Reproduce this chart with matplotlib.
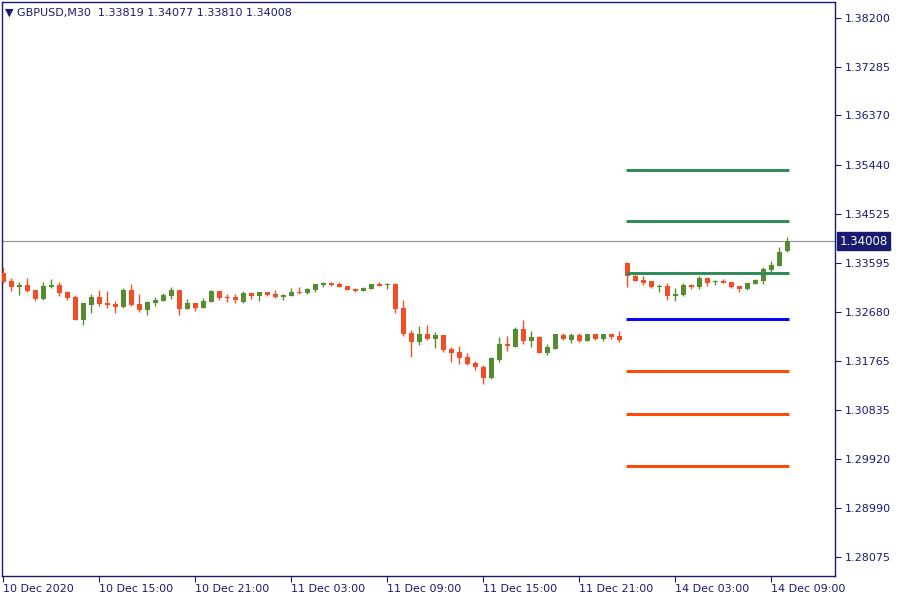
"""
GBPUSD M30 candlestick chart with support / resistance levels (MT4 style)
"""
import matplotlib

matplotlib.use("Agg")
import matplotlib.pyplot as plt
import numpy as np

# candles 10 Dec 09:00 .. 11 Dec 23:30, then 14 Dec 00:00 .. 14 Dec 10:00
opens = [
    1.33409, 1.33259, 1.33152, 1.33184, 1.33090, 1.32926, 1.33152, 1.33184, 1.33052, 1.32958,
    1.32532, 1.32814, 1.32958, 1.32846, 1.32827, 1.32776, 1.33090, 1.32827, 1.32720, 1.32851,
    1.32889, 1.32983, 1.33090, 1.32738, 1.32846, 1.32757, 1.32870, 1.33071, 1.32964, 1.32958,
    1.32870, 1.33033, 1.32983, 1.33052, 1.33015, 1.32964, 1.32983, 1.33052, 1.33033, 1.33090,
    1.33184, 1.33221, 1.33202, 1.33165, 1.33109, 1.33071, 1.33109, 1.33202, 1.33189, 1.33202,
    1.32752, 1.32288, 1.32119, 1.32269, 1.32175, 1.32250, 1.31987, 1.31931, 1.31837, 1.31724,
    1.31649, 1.31442, 1.31780, 1.32081, 1.32025, 1.32363, 1.32137, 1.32212, 1.31912, 1.31987,
    1.32250, 1.32156, 1.32250, 1.32137, 1.32269, 1.32175, 1.32269, 1.32231,
    1.33603, 1.33358, 1.33283, 1.33265, 1.33152, 1.33171, 1.32983, 1.33001, 1.33189, 1.33152,
    1.33321, 1.33246, 1.33265, 1.33246, 1.33171, 1.33114, 1.33208, 1.33265, 1.33471, 1.33546,
    1.33819,
]
highs = [
    1.33527, 1.33315, 1.33240, 1.33315, 1.33090, 1.33240, 1.33296, 1.33240, 1.33071, 1.32996,
    1.32846, 1.33015, 1.33090, 1.33071, 1.32883, 1.33127, 1.33202, 1.33015, 1.32883, 1.32958,
    1.33033, 1.33146, 1.33090, 1.32921, 1.32846, 1.32940, 1.33090, 1.33071, 1.33015, 1.33015,
    1.33071, 1.33033, 1.33052, 1.33052, 1.33090, 1.33015, 1.33127, 1.33146, 1.33127, 1.33202,
    1.33240, 1.33240, 1.33240, 1.33165, 1.33127, 1.33146, 1.33202, 1.33240, 1.33221, 1.33221,
    1.32902, 1.32338, 1.32419, 1.32438, 1.32306, 1.32250, 1.32025, 1.32043, 1.31912, 1.31762,
    1.31686, 1.31837, 1.32212, 1.32231, 1.32400, 1.32532, 1.32325, 1.32231, 1.32081, 1.32269,
    1.32288, 1.32288, 1.32288, 1.32269, 1.32269, 1.32269, 1.32269, 1.32325,
    1.33621, 1.33434, 1.33358, 1.33265, 1.33208, 1.33227, 1.33133, 1.33227, 1.33208, 1.33358,
    1.33340, 1.33283, 1.33302, 1.33246, 1.33171, 1.33227, 1.33302, 1.33527, 1.33640, 1.33898,
    1.34077,
]
lows = [
    1.33221, 1.33077, 1.33001, 1.33058, 1.32889, 1.32908, 1.33133, 1.32983, 1.32908, 1.32532,
    1.32438, 1.32663, 1.32795, 1.32757, 1.32663, 1.32757, 1.32795, 1.32682, 1.32626, 1.32795,
    1.32889, 1.32926, 1.32626, 1.32738, 1.32701, 1.32757, 1.32870, 1.32908, 1.32870, 1.32851,
    1.32851, 1.32926, 1.32889, 1.32983, 1.32945, 1.32908, 1.32983, 1.33015, 1.33015, 1.33052,
    1.33146, 1.33165, 1.33146, 1.33090, 1.33052, 1.33071, 1.33109, 1.33165, 1.33109, 1.32658,
    1.32231, 1.31837, 1.32062, 1.32156, 1.32006, 1.31931, 1.31743, 1.31705, 1.31686, 1.31593,
    1.31330, 1.31423, 1.31743, 1.31949, 1.32025, 1.32081, 1.32025, 1.31912, 1.31874, 1.31987,
    1.32156, 1.32100, 1.32119, 1.32137, 1.32156, 1.32137, 1.32175, 1.32119,
    1.33152, 1.33265, 1.33189, 1.33133, 1.33058, 1.32908, 1.32889, 1.32983, 1.33114, 1.33114,
    1.33171, 1.33189, 1.33227, 1.33133, 1.33058, 1.33095, 1.33208, 1.33208, 1.33415, 1.33546,
    1.33810,
]
closes = [
    1.33240, 1.33152, 1.33184, 1.33077, 1.32926, 1.33165, 1.33184, 1.33039, 1.32945, 1.32532,
    1.32846, 1.32958, 1.32827, 1.32814, 1.32776, 1.33090, 1.32814, 1.32720, 1.32864, 1.32902,
    1.32996, 1.33090, 1.32738, 1.32846, 1.32757, 1.32883, 1.33071, 1.32945, 1.32945, 1.32908,
    1.33033, 1.32983, 1.33052, 1.33001, 1.32964, 1.33001, 1.33052, 1.33033, 1.33109, 1.33202,
    1.33221, 1.33184, 1.33146, 1.33090, 1.33071, 1.33127, 1.33202, 1.33165, 1.33202, 1.32733,
    1.32269, 1.32119, 1.32269, 1.32175, 1.32250, 1.31968, 1.31912, 1.31818, 1.31705, 1.31649,
    1.31442, 1.31818, 1.32081, 1.32043, 1.32363, 1.32137, 1.32212, 1.31912, 1.32025, 1.32269,
    1.32175, 1.32250, 1.32137, 1.32269, 1.32175, 1.32269, 1.32212, 1.32156,
    1.33358, 1.33265, 1.33227, 1.33152, 1.33171, 1.32983, 1.33020, 1.33189, 1.33152, 1.33321,
    1.33227, 1.33265, 1.33227, 1.33152, 1.33114, 1.33227, 1.33283, 1.33490, 1.33565, 1.33804,
    1.34008,
]

# horizontal levels drawn on the last session
resistance_levels = [1.35344, 1.34386, 1.33409]
pivot_level = 1.32545
support_levels = [1.31568, 1.30761, 1.29784]

y_ticks = [1.38200, 1.37285, 1.36370, 1.35440, 1.34525, 1.33595,
           1.32680, 1.31765, 1.30835, 1.29920, 1.28990, 1.28075]
x_tick_idx = [0, 12, 24, 36, 48, 60, 72, 84, 96]
x_tick_labels = ["10 Dec 2020", "10 Dec 15:00", "10 Dec 21:00", "11 Dec 03:00",
                 "11 Dec 09:00", "11 Dec 15:00", "11 Dec 21:00", "14 Dec 03:00",
                 "14 Dec 09:00"]

symbol = "GBPUSD,M30"
last_price = closes[-1]

UP = "#568c30"
DOWN = "#f24d26"
NAVY = "#1a1a6e"

fig = plt.figure(figsize=(9, 6), dpi=100)
ax = fig.add_axes([2 / 900, 24 / 600, 833 / 900, 574 / 600])

o = np.array(opens)
h = np.array(highs)
l = np.array(lows)
c = np.array(closes)
x = np.arange(len(o))
colors = [UP if cc >= oo else DOWN for oo, cc in zip(o, c)]

# wicks then bodies
ax.vlines(x, l, h, colors=colors, linewidth=1.0, zorder=3)
body_bottom = np.minimum(o, c)
body_height = np.maximum(np.abs(c - o), 0.00019)
ax.bar(x, body_height, bottom=body_bottom, width=0.62, color=colors, linewidth=0, zorder=4)

# level lines
x0, x1 = 77.85, 98.2
for lvl in resistance_levels:
    ax.hlines(lvl, x0, x1, colors="#2e8b57", linewidth=2.1, zorder=5)
ax.hlines(pivot_level, x0, x1, colors="#0000ff", linewidth=2.1, zorder=5)
for lvl in support_levels:
    ax.hlines(lvl, x0, x1, colors="#ff4500", linewidth=2.1, zorder=5)

# current price line
ax.axhline(last_price, color="#8a8f9a", linewidth=0.8, zorder=2)

ax.set_xlim(-0.16, 103.96)
ax.set_ylim(1.27717, 1.38500)

ax.yaxis.tick_right()
ax.set_yticks(y_ticks)
ax.set_yticklabels([f"{v:.5f}" for v in y_ticks])
ax.set_xticks(x_tick_idx)
ax.set_xticklabels(x_tick_labels, ha="left")
ax.tick_params(axis="both", colors=NAVY, labelsize=8, length=4, width=0.8)
ax.tick_params(axis="y", pad=3)
ax.tick_params(axis="x", pad=2)
for lab in ax.get_xticklabels() + ax.get_yticklabels():
    lab.set_color(NAVY)
for sp in ax.spines.values():
    sp.set_color(NAVY)
    sp.set_linewidth(1.0)

# price tag on the right axis
ax.text(1.0055, last_price, f"{last_price:.5f}", transform=ax.get_yaxis_transform(),
        va="center", ha="left", color="white", fontsize=8.5,
        bbox=dict(boxstyle="square,pad=0.18", facecolor=NAVY, edgecolor=NAVY), zorder=10)

# header
ax.text(0.004, 0.99, "\u25bc " + symbol + "  " + " ".join(f"{v:.5f}" for v in (o[-1], h[-1], l[-1], c[-1])),
        transform=ax.transAxes, va="top", ha="left", fontsize=8, color=NAVY)

fig.savefig("out.png", dpi=100)
